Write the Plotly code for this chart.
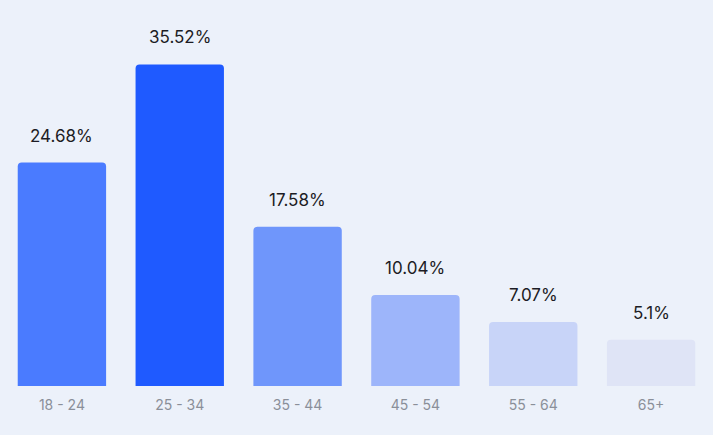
import plotly.graph_objects as go

# age groups and share of visitors (%)
age_groups = ["18 - 24", "25 - 34", "35 - 44", "45 - 54", "55 - 64", "65+"]
shares = [24.68, 35.52, 17.58, 10.04, 7.07, 5.1]
share_labels = ["24.68%", "35.52%", "17.58%", "10.04%", "7.07%", "5.1%"]
bar_colors = ["#4a7bff", "#1f5aff", "#6f96fb", "#9db5fa", "#c8d4f8", "#dfe4f6"]

fig = go.Figure()
fig.add_trace(go.Bar(
    x=age_groups,
    y=shares,
    marker=dict(color=bar_colors, cornerradius=4, line=dict(width=0)),
    hoverinfo="skip",
))

# value labels sit a bit above each bar
for cat, val, lab in zip(age_groups, shares, share_labels):
    fig.add_annotation(
        x=cat, y=val, text=lab, showarrow=False,
        yanchor="bottom", yshift=15,
        font=dict(family="Inter", size=17, color="#1c1c24"),
    )

fig.update_layout(
    width=713,
    height=435,
    margin=dict(l=3, r=3, t=42, b=49),
    paper_bgcolor="#ecf1fa",
    plot_bgcolor="#ecf1fa",
    bargap=0.25,
    showlegend=False,
)
fig.update_xaxes(
    showgrid=False, showline=False, zeroline=False, ticks="",
    ticklabelstandoff=9,
    tickfont=dict(family="Inter", size=14, color="#8a8f99"),
)
fig.update_yaxes(
    range=[0, 38], visible=False, showgrid=False, zeroline=False,
)

fig.write_html(
    "out.html",
    config={"displayModeBar": False},
    post_script="document.body.style.margin='0';document.body.style.background='#ecf1fa';",
)
